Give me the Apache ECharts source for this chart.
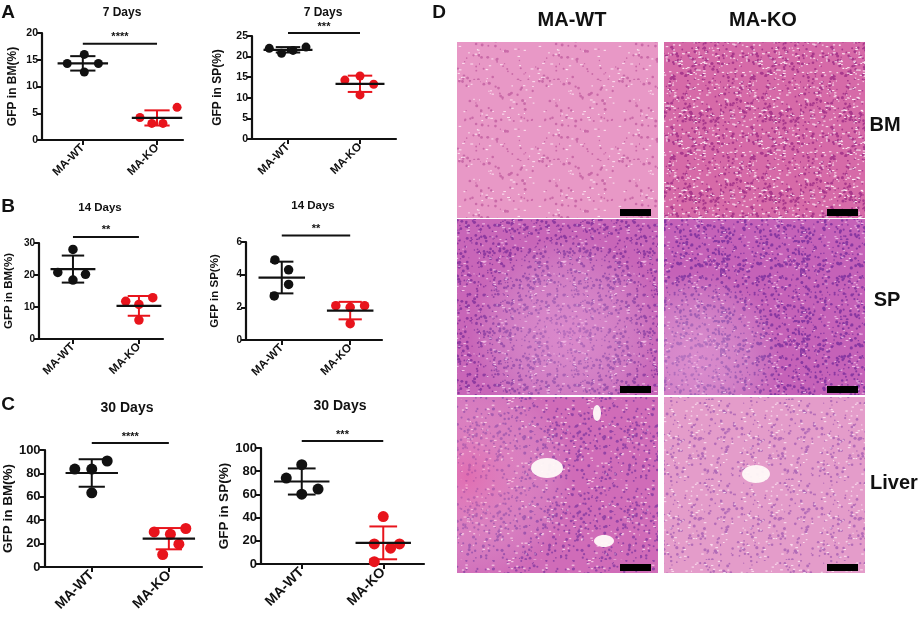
<!DOCTYPE html>
<html>
<head>
<meta charset="utf-8">
<script src="https://cdn.jsdelivr.net/npm/echarts@6/dist/echarts.min.js"></script>
<style>
  html, body { margin: 0; padding: 0; background: #fff; }
  #chart { width: 920px; height: 620px; }
</style>
</head>
<body>
<div id="chart"></div>
<script>
// 分组
const groups = ['MA-WT', 'MA-KO'];

// GFP 百分比
const bm7Wt = [14.3, 16.0, 12.7, 14.3];
const bm7Ko = [4.2, 6.1, 3.1, 3.1];
const sp7Wt = [22.0, 20.8, 21.5, 22.3];
const sp7Ko = [14.3, 15.3, 10.7, 13.3];
const bm14Wt = [20.8, 28.0, 18.4, 20.2];
const bm14Ko = [11.8, 10.8, 5.9, 12.9];
const sp14Wt = [4.9, 4.3, 3.4, 2.7];
const sp14Ko = [2.1, 2.0, 2.1, 1.0];
const bm30Wt = [83.7, 83.7, 90.6, 63.4];
const bm30Ko = [30.0, 28.0, 32.9, 19.5, 10.6];
const sp30Wt = [74.1, 85.6, 64.6, 60.2];
const sp30Ko = [40.9, 17.3, 13.6, 17.3, 2.0];

// 点在组中心左右的错位（x 轴单位）
const bm7WtJit = [-0.21, 0.02, 0.02, 0.21];
const bm7KoJit = [-0.23, 0.27, -0.07, 0.08];
const sp7WtJit = [-0.26, -0.09, 0.07, 0.25];
const sp7KoJit = [-0.21, 0, 0, 0.19];
const bm14WtJit = [-0.23, 0, 0, 0.19];
const bm14KoJit = [-0.2, 0, 0, 0.21];
const sp14WtJit = [-0.1, 0.1, 0.1, -0.11];
const sp14KoJit = [-0.21, 0, 0.21, 0];
const bm30WtJit = [-0.22, 0, 0.2, 0];
const bm30KoJit = [-0.19, 0.02, 0.22, 0.13, -0.08];
const sp30WtJit = [-0.19, 0, 0.2, 0];
const sp30KoJit = [0, -0.11, 0.09, 0.2, -0.11];

const panelTitles = ['7 Days', '7 Days', '14 Days', '14 Days', '30 Days', '30 Days'];
const yNames = ['GFP in BM(%)', 'GFP in SP(%)', 'GFP in BM(%)', 'GFP in SP(%)', 'GFP in BM(%)', 'GFP in SP(%)'];
const yMaxes = [20, 25, 30, 6, 100, 100];
const yIntervals = [5, 5, 10, 2, 20, 20];
const starTexts = ['****', '***', '**', '**', '****', '***'];
const starLevels = [18, 25.7, 31.9, 6.4, 106, 106];

const wtSets = [[bm7Wt, bm7WtJit], [sp7Wt, sp7WtJit], [bm14Wt, bm14WtJit], [sp14Wt, sp14WtJit], [bm30Wt, bm30WtJit], [sp30Wt, sp30WtJit]];
const koSets = [[bm7Ko, bm7KoJit], [sp7Ko, sp7KoJit], [bm14Ko, bm14KoJit], [sp14Ko, sp14KoJit], [bm30Ko, bm30KoJit], [sp30Ko, sp30KoJit]];

// 布局（像素）
const layout = [
  { left: 42, top: 33, width: 141, height: 107, xMin: 0.45, xMax: 2.35, nameDist: 29, titleX: 122, titleY: 13 },
  { left: 252, top: 36, width: 144, height: 103, xMin: 0.5, xMax: 2.5, nameDist: 34, titleX: 323, titleY: 13 },
  { left: 39, top: 243, width: 124, height: 96, xMin: 0.485, xMax: 2.365, nameDist: 30, titleX: 100, titleY: 208 },
  { left: 246, top: 242, width: 136, height: 98, xMin: 0.477, xMax: 2.465, nameDist: 31, titleX: 313, titleY: 206 },
  { left: 41, top: 450, width: 161, height: 117, xMin: 0.388, xMax: 2.43, nameDist: 28, titleX: 127, titleY: 408 },
  { left: 261, top: 448, width: 163, height: 116, xMin: 0.5, xMax: 2.5, nameDist: 33, titleX: 340, titleY: 406 }
];
const rowFonts = [
  { tick: 10.5, name: 12, cat: 11.5, title: 12, dot: 9 },
  { tick: 10, name: 11.5, cat: 11.5, title: 11.5, dot: 9.5 },
  { tick: 13, name: 13.5, cat: 14, title: 14, dot: 11 }
];

const FONT = '"Liberation Sans", Arial, sans-serif';
const BLACK = '#111';
const RED = '#e8141c';

function meanSd(vals) {
  const m = vals.reduce((a, b) => a + b, 0) / vals.length;
  const v = vals.reduce((a, b) => a + (b - m) * (b - m), 0) / (vals.length - 1);
  return [m, Math.sqrt(v)];
}

// 均值线 + SD 误差棒
function errorBarSeries(i, g, vals, color) {
  const [m, sd] = meanSd(vals);
  return {
    type: 'custom', xAxisIndex: i, yAxisIndex: i, z: 5, silent: true,
    data: [[g + 1, m, sd]],
    renderItem: (params, api) => {
      const x = api.value(0), mean = api.value(1), s = api.value(2);
      const top = api.coord([x, mean + s]);
      const bot = api.coord([x, mean - s]);
      const mL = api.coord([x - 0.34, mean]);
      const mR = api.coord([x + 0.34, mean]);
      const cL = api.coord([x - 0.17, mean])[0];
      const cR = api.coord([x + 0.17, mean])[0];
      const st = { stroke: color, lineWidth: 2 };
      return {
        type: 'group', children: [
          { type: 'line', shape: { x1: top[0], y1: top[1], x2: bot[0], y2: bot[1] }, style: st },
          { type: 'line', shape: { x1: cL, y1: top[1], x2: cR, y2: top[1] }, style: st },
          { type: 'line', shape: { x1: cL, y1: bot[1], x2: cR, y2: bot[1] }, style: st },
          { type: 'line', shape: { x1: mL[0], y1: mL[1], x2: mR[0], y2: mR[1] }, style: { stroke: BLACK, lineWidth: 2.2 } }
        ]
      };
    }
  };
}

// 显著性横线和星号
function starSeries(i, text, level, fs) {
  return {
    type: 'custom', xAxisIndex: i, yAxisIndex: i, z: 5, silent: true,
    data: [[1, 2, level]],
    renderItem: (params, api) => {
      const a = api.coord([api.value(0), api.value(2)]);
      const b = api.coord([api.value(1), api.value(2)]);
      return {
        type: 'group', children: [
          { type: 'line', shape: { x1: a[0], y1: a[1], x2: b[0], y2: b[1] }, style: { stroke: BLACK, lineWidth: 2 } },
          { type: 'text', x: (a[0] + b[0]) / 2, y: a[1] - 1,
            style: { text: text, fill: BLACK, font: 'bold ' + fs + 'px ' + FONT, align: 'center', verticalAlign: 'bottom' } }
        ]
      };
    }
  };
}

const grids = [], xAxes = [], yAxes = [], series = [], graphics = [];

layout.forEach((p, i) => {
  const f = rowFonts[Math.floor(i / 2)];
  grids.push({ left: p.left, top: p.top, width: p.width, height: p.height });
  xAxes.push({
    type: 'value', gridIndex: i, min: p.xMin, max: p.xMax,
    axisLine: { show: true, onZero: false, lineStyle: { color: BLACK, width: 2.2 } },
    axisTick: { show: true, customValues: [1, 2], length: 5, lineStyle: { color: BLACK, width: 2 } },
    axisLabel: {
      customValues: [1, 2], rotate: 45, margin: 6,
      formatter: v => groups[Math.round(v) - 1],
      color: BLACK, fontWeight: 'bold', fontSize: f.cat, fontFamily: FONT
    },
    splitLine: { show: false }
  });
  yAxes.push({
    type: 'value', gridIndex: i, min: 0, max: yMaxes[i], interval: yIntervals[i],
    axisLine: { show: true, lineStyle: { color: BLACK, width: 2.2 } },
    axisTick: { show: true, length: 5, lineStyle: { color: BLACK, width: 2 } },
    axisLabel: { color: BLACK, fontWeight: 'bold', fontSize: f.tick, fontFamily: FONT, margin: 4 },
    splitLine: { show: false },
    name: yNames[i], nameLocation: 'middle', nameRotate: 90,
    nameGap: p.nameDist - f.name / 2,
    nameTextStyle: { color: BLACK, fontWeight: 'bold', fontSize: f.name, fontFamily: FONT }
  });

  const [wv, wj] = wtSets[i];
  const [kv, kj] = koSets[i];
  series.push({
    type: 'scatter', xAxisIndex: i, yAxisIndex: i, symbolSize: f.dot, z: 3, silent: true,
    itemStyle: { color: BLACK, opacity: 1 }, data: wv.map((v, k) => [1 + wj[k], v])
  });
  series.push({
    type: 'scatter', xAxisIndex: i, yAxisIndex: i, symbolSize: f.dot, z: 3, silent: true,
    itemStyle: { color: RED, opacity: 1 }, data: kv.map((v, k) => [2 + kj[k], v])
  });
  series.push(errorBarSeries(i, 0, wv, BLACK));
  series.push(errorBarSeries(i, 1, kv, RED));
  series.push(starSeries(i, starTexts[i], starLevels[i], 11));

  graphics.push({
    type: 'text', x: p.titleX, y: p.titleY,
    style: { text: panelTitles[i], fill: BLACK, font: 'bold ' + f.title + 'px ' + FONT, align: 'center', verticalAlign: 'middle' }
  });
});

// 面板字母
[['A', 8, 13], ['B', 8, 207], ['C', 8, 405], ['D', 439, 13]].forEach(([t, x, y]) => {
  graphics.push({ type: 'text', x: x, y: y, style: { text: t, fill: BLACK, font: 'bold 19px ' + FONT, align: 'center', verticalAlign: 'middle' } });
});

// D: 组织切片（用纹理示意）
function tissueTexture(base, dark, speck, nDark, nSpeck, seed) {
  const c = document.createElement('canvas');
  c.width = 80; c.height = 80;
  const ctx = c.getContext('2d');
  ctx.fillStyle = base;
  ctx.fillRect(0, 0, 80, 80);
  let s = seed;
  const next = () => { s = (s * 16807) % 2147483647; return s / 2147483647; };
  for (let k = 0; k < nDark; k++) {
    ctx.fillStyle = dark;
    ctx.beginPath();
    ctx.arc(next() * 80, next() * 80, 0.6 + next() * 1.0, 0, Math.PI * 2);
    ctx.fill();
  }
  for (let k = 0; k < nSpeck; k++) {
    ctx.fillStyle = speck;
    ctx.fillRect(next() * 80, next() * 80, 1 + next() * 2, 1);
  }
  return c;
}

const tileCols = [457, 664];
const tileRows = [42, 219, 397];
const tileW = 201;
const tileH = 176;
const tileLooks = [
  ['#e898c6', '#c96aa8', 'rgba(255,235,245,0.9)', 90, 60, 11],
  ['#d66aa8', '#a8388c', 'rgba(255,240,248,0.95)', 260, 220, 23],
  ['#c866b8', '#8e3aa0', 'rgba(245,200,235,0.9)', 320, 90, 37],
  ['#c562b8', '#8838a2', 'rgba(245,200,235,0.9)', 320, 90, 41],
  ['#d06cb8', '#9444a6', 'rgba(255,225,240,0.9)', 220, 80, 53],
  ['#e49cca', '#b46cb8', 'rgba(255,235,245,0.9)', 160, 90, 67]
];
const tileGlows = [
  null,
  null,
  { x: 0.55, y: 0.65, r: 0.55, color: 'rgba(240,175,225,0.45)' },
  { x: 0.15, y: 0.8, r: 0.5, color: 'rgba(240,180,225,0.5)' },
  { x: 0.05, y: 0.45, r: 0.6, color: 'rgba(240,110,170,0.5)' },
  null
];

tileRows.forEach((ty, r) => {
  tileCols.forEach((tx, c) => {
    const k = r * 2 + c;
    const L = tileLooks[k];
    graphics.push({
      type: 'rect', shape: { x: tx, y: ty, width: tileW, height: tileH }, silent: true,
      style: { fill: { image: tissueTexture(L[0], L[1], L[2], L[3], L[4], L[5]), repeat: 'repeat' } }
    });
    const gl = tileGlows[k];
    if (gl) {
      graphics.push({
        type: 'rect', shape: { x: tx, y: ty, width: tileW, height: tileH }, silent: true,
        style: { fill: new echarts.graphic.RadialGradient(gl.x, gl.y, gl.r, [
          { offset: 0, color: gl.color }, { offset: 1, color: 'rgba(255,255,255,0)' }]) }
      });
    }
    // 比例尺
    graphics.push({
      type: 'rect', shape: { x: tx + tileW - 38, y: ty + tileH - 9, width: 31, height: 7 },
      style: { fill: '#000' }, silent: true
    });
  });
});

// 肝脏切片中的血管腔
[[547, 468, 16, 10], [604, 541, 10, 6], [756, 474, 14, 9], [597, 413, 4, 8]].forEach(([x, y, rx, ry]) => {
  graphics.push({ type: 'ellipse', shape: { cx: x, cy: y, rx: rx, ry: ry }, style: { fill: 'rgba(255,250,248,0.95)' }, silent: true });
});

// D 标题
[['MA-WT', 572, 20], ['MA-KO', 763, 20], ['BM', 885, 125], ['SP', 887, 300], ['Liver', 894, 483]]
  .forEach(([t, x, y]) => {
    graphics.push({ type: 'text', x: x, y: y, style: { text: t, fill: BLACK, font: 'bold 20px ' + FONT, align: 'center', verticalAlign: 'middle' } });
  });

const chart = echarts.init(document.getElementById('chart'));
chart.setOption({
  backgroundColor: '#fff',
  animation: false,
  grid: grids,
  xAxis: xAxes,
  yAxis: yAxes,
  series: series,
  graphic: graphics
});
</script>
</body>
</html>
